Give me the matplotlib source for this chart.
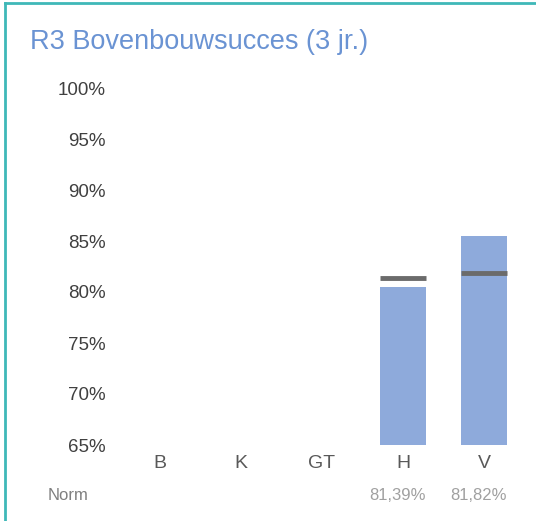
import numpy as np
import matplotlib.pyplot as plt
from matplotlib.lines import Line2D

plt.rcParams['font.family'] = ['Liberation Sans', 'DejaVu Sans']

# Data
categories = ['B', 'K', 'GT', 'H', 'V']
scores = [np.nan, np.nan, np.nan, 80.5, 85.5]
norms = [np.nan, np.nan, np.nan, 81.39, 81.82]
norm_labels = ['', '', '', '81,39%', '81,82%']
yticks = [65, 70, 75, 80, 85, 90, 95, 100]

fig = plt.figure(figsize=(5.36, 5.21), dpi=100)
ax = fig.add_axes([119.5 / 536, 76 / 521, 405 / 536, 357 / 521])

x = np.arange(len(categories))
ax.bar(x, scores, width=0.56, color='#8eaadb', bottom=0)
for i, n in enumerate(norms):
    if not np.isnan(n):
        ax.hlines(n, i - 0.29, i + 0.29, color='#6b6b6b', linewidth=3.5)

ax.set_xlim(-0.5, len(categories) - 0.5)
ax.set_ylim(65, 100)
ax.set_yticks(yticks)
ax.set_yticklabels([f'{t}%' for t in yticks], fontsize=13.5, color='#404040')
ax.set_xticks(x)
ax.set_xticklabels(categories, fontsize=14, color='#595959')
ax.tick_params(length=0)
ax.tick_params(axis='y', pad=10)
ax.tick_params(axis='x', pad=7)
for s in ax.spines.values():
    s.set_visible(False)

# Norm row
fig.text(48 / 536, 1 - 495 / 521, 'Norm', fontsize=12, color='#7f7f7f',
         ha='left', va='center')
for i, lab in enumerate(norm_labels):
    if lab:
        ax.annotate(lab, (i - 0.07, 0), xycoords=('data', 'figure fraction'),
                    xytext=(0, 1 - 495 / 521), textcoords=('offset points', 'figure fraction'),
                    fontsize=12, color='#a0a0a0', ha='center', va='center')

# Title
fig.text(30 / 536, 1 - 42 / 521, 'R3 Bovenbouwsucces (3 jr.)', fontsize=19.5,
         color='#6a93d3', ha='left', va='center')

# Border lines (left and top)
fig.add_artist(Line2D([5 / 536, 5 / 536], [0, 1 - 3 / 521], color='#3fb8b8', linewidth=2))
fig.add_artist(Line2D([5 / 536, 1], [1 - 3 / 521, 1 - 3 / 521], color='#3fb8b8', linewidth=2))

fig.savefig('out.png', dpi=100)
